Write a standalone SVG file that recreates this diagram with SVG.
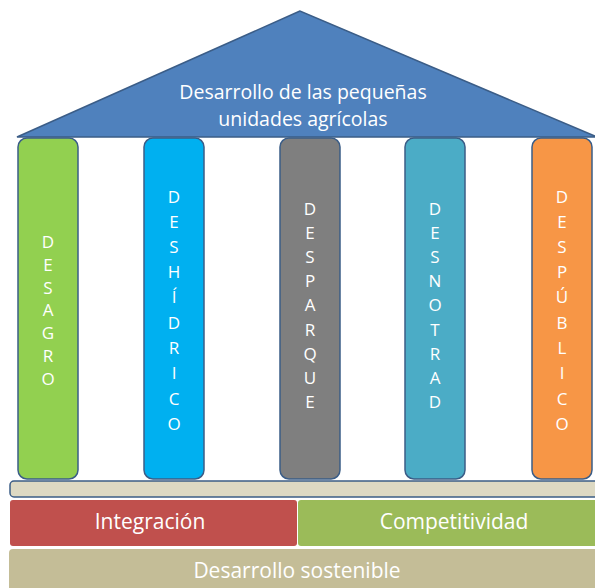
<svg xmlns="http://www.w3.org/2000/svg" width="595" height="588" viewBox="0 0 595 588">
<style>
.t{font-family:"Open Sans","Liberation Sans",sans-serif;fill:#ffffff;text-anchor:middle}
.roof{font-size:19.5px}
.col{font-size:17px}
.lbl{font-size:21px}
.p{stroke:#3b5d87;stroke-width:1.5}
</style>
<rect width="595" height="588" fill="#ffffff"/>
<g id="roof">
<polygon points="300,11 17,137 597,137" fill="#4f81bd" stroke="#3b5d87" stroke-width="1.5"/>
<text class="t roof" x="303" y="99">Desarrollo de las pequeñas</text>
<text class="t roof" x="303" y="126">unidades agrícolas</text>
</g>
<g id="desagro">
<rect class="p" x="18" y="138" width="60" height="341" rx="9" fill="#92d050"/>
<text class="t col"><tspan x="48" y="248">D</tspan><tspan x="48" y="271">E</tspan><tspan x="48" y="294">S</tspan><tspan x="48" y="316">A</tspan><tspan x="48" y="339">G</tspan><tspan x="48" y="362">R</tspan><tspan x="48" y="385">O</tspan></text>
</g>
<g id="deshidrico">
<rect class="p" x="144" y="138" width="60" height="341" rx="9" fill="#00b0f0"/>
<text class="t col"><tspan x="174" y="203">D</tspan><tspan x="174" y="228">E</tspan><tspan x="174" y="253">S</tspan><tspan x="174" y="278">H</tspan><tspan x="174" y="303">Í</tspan><tspan x="174" y="329">D</tspan><tspan x="174" y="354">R</tspan><tspan x="174" y="379">I</tspan><tspan x="174" y="405">C</tspan><tspan x="174" y="430">O</tspan></text>
</g>
<g id="desparque">
<rect class="p" x="280" y="138" width="60" height="341" rx="9" fill="#7f7f7f"/>
<text class="t col"><tspan x="310" y="215">D</tspan><tspan x="310" y="239">E</tspan><tspan x="310" y="263">S</tspan><tspan x="310" y="287">P</tspan><tspan x="310" y="311">A</tspan><tspan x="310" y="336">R</tspan><tspan x="310" y="360">Q</tspan><tspan x="310" y="384">U</tspan><tspan x="310" y="408">E</tspan></text>
</g>
<g id="desnotrad">
<rect class="p" x="405" y="138" width="60" height="341" rx="9" fill="#4bacc6"/>
<text class="t col"><tspan x="435" y="215">D</tspan><tspan x="435" y="239">E</tspan><tspan x="435" y="263">S</tspan><tspan x="435" y="287">N</tspan><tspan x="435" y="311">O</tspan><tspan x="435" y="336">T</tspan><tspan x="435" y="360">R</tspan><tspan x="435" y="384">A</tspan><tspan x="435" y="408">D</tspan></text>
</g>
<g id="despublico">
<rect class="p" x="532" y="138" width="60" height="341" rx="9" fill="#f79646"/>
<text class="t col"><tspan x="562" y="203">D</tspan><tspan x="562" y="228">E</tspan><tspan x="562" y="253">S</tspan><tspan x="562" y="278">P</tspan><tspan x="562" y="303">Ú</tspan><tspan x="562" y="329">B</tspan><tspan x="562" y="354">L</tspan><tspan x="562" y="379">I</tspan><tspan x="562" y="405">C</tspan><tspan x="562" y="430">O</tspan></text>
</g>
<g id="slab">
<rect x="10" y="481" width="590" height="16" rx="4" fill="#ddd9c3" stroke="#3b5d87" stroke-width="1.5"/>
</g>
<g id="integracion">
<rect x="10" y="500" width="287" height="46" rx="3" fill="#c0504d"/>
<text class="t lbl" x="150" y="529">Integración</text>
</g>
<g id="competitividad">
<rect x="298" y="500" width="300" height="46" rx="3" fill="#9bbb59"/>
<text class="t lbl" x="454" y="529">Competitividad</text>
</g>
<g id="sostenible">
<rect x="9" y="549" width="590" height="45" rx="4" fill="#c4bd97"/>
<text class="t lbl" x="297" y="578">Desarrollo sostenible</text>
</g>
<g id="connectors"></g>
</svg>
